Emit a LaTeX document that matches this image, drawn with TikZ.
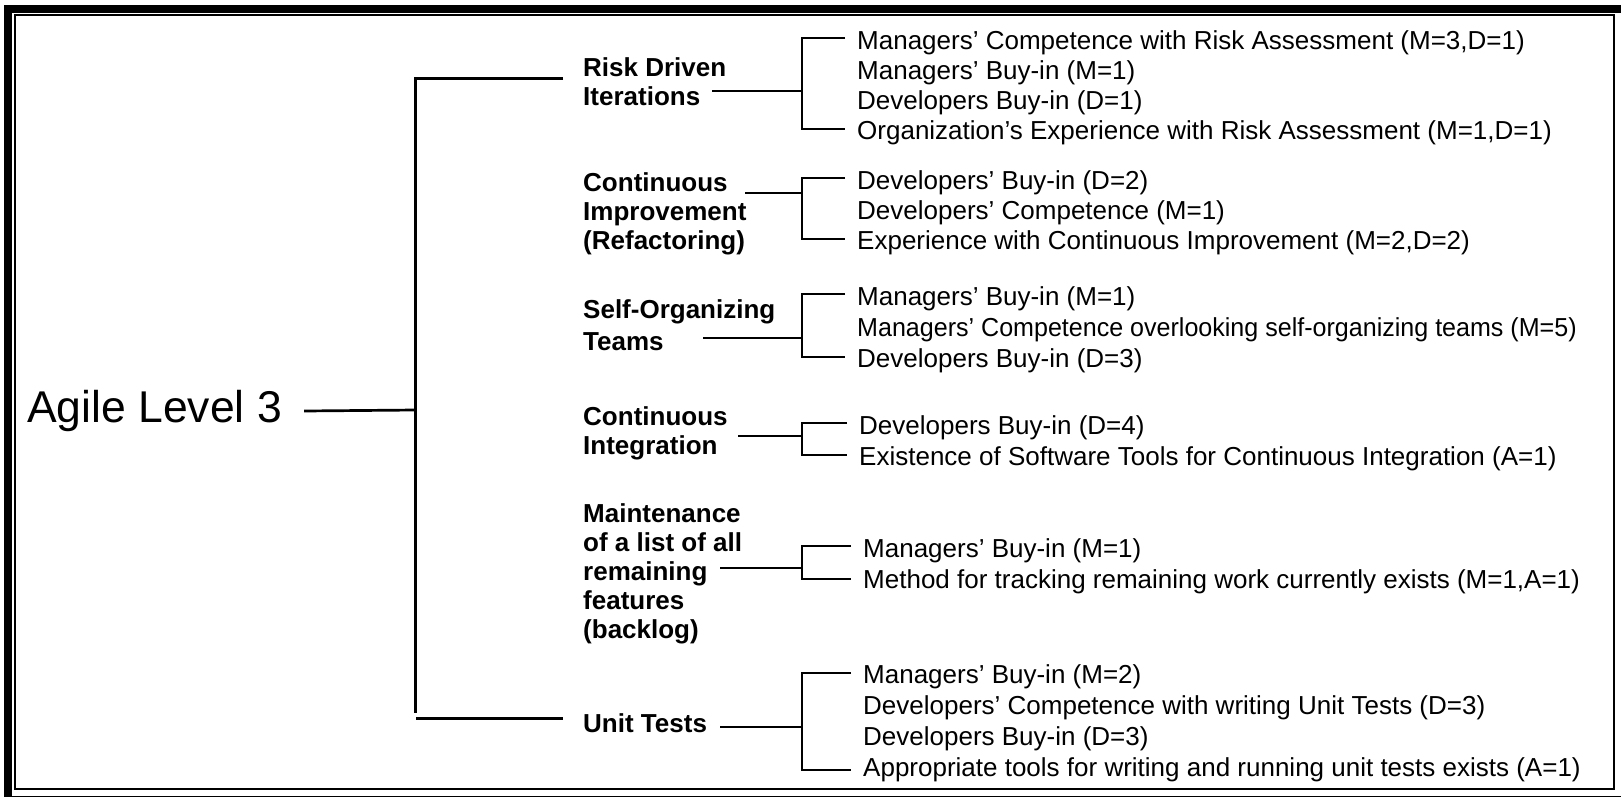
\documentclass[tikz,border=0pt]{standalone}
\usepackage{fontspec}
\setmainfont{Liberation Sans}
\begin{document}
\begin{tikzpicture}[x=1pt, y=-1pt,
    itemtext/.style={anchor=west, inner sep=0pt, font=\fontsize{26}{30}\selectfont, execute at begin node=\strut},
    cattext/.style={anchor=west, inner sep=0pt, align=left, font=\bfseries\fontsize{26}{29}\selectfont,
        execute at begin node=\strut, execute at end node=\strut},
    trunk/.style={line width=3pt},
    twig/.style={line width=1.4pt}]
    \useasboundingbox (0,0) rectangle (1621,796);

    % 外框
    \draw[line width=8pt] (8,9) rectangle (1625,800);
    \draw[line width=2pt] (15,15) rectangle (1614,789);

    % 根
    \node[anchor=west, inner sep=0pt, font=\fontsize{44.5}{50}\selectfont] (root) at (27,411) {Agile Level 3};
    \coordinate (ttop) at (415,78);
    \coordinate (tmid) at (415,410);
    \coordinate (tend) at (415,713);
    \coordinate (tbot) at (416,718);
    \coordinate (b1) at (563,78);
    \coordinate (b6) at (563,718);
    \draw[line width=2.7pt] ([xshift=22]root.east) -- (tmid);
    \draw[trunk] (b1) -- (ttop) -- (tend);
    \draw[trunk] (tbot) -- (b6);

    % Risk Driven Iterations
    \node[cattext] (c1) at (583,86) {Risk Driven\\Iterations};
    \coordinate (s1) at (712,91);
    \coordinate (j1) at (802,91);
    \coordinate (u1) at (802,38);
    \coordinate (d1) at (802,129);
    \draw[twig] (s1) -- (j1);
    \draw[twig] ([xshift=43]u1) -- (u1) -- (d1) -- ([xshift=43]d1);
    \node[itemtext] (i11) at (857,43) {Managers’ Competence with Risk Assessment (M=3,D=1)};
    \node[itemtext] (i12) at (857,73) {Managers’ Buy-in (M=1)};
    \node[itemtext] (i13) at (857,103) {Developers Buy-in (D=1)};
    \node[itemtext] (i14) at (857,133) {Organization’s Experience with Risk Assessment (M=1,D=1)};

    % Continuous Improvement
    \node[cattext] (c2) at (583,215) {Continuous\\Improvement\\(Refactoring)};
    \coordinate (s2) at (745,193);
    \coordinate (j2) at (802,193);
    \coordinate (u2) at (802,178);
    \coordinate (d2) at (802,239);
    \draw[twig] (s2) -- (j2);
    \draw[twig] ([xshift=43]u2) -- (u2) -- (d2) -- ([xshift=43]d2);
    \node[itemtext] (i21) at (857,183) {Developers’ Buy-in (D=2)};
    \node[itemtext] (i22) at (857,213) {Developers’ Competence (M=1)};
    \node[itemtext] (i23) at (857,243) {Experience with Continuous Improvement (M=2,D=2)};

    % Self-Organizing Teams
    \node[cattext] (c3) at (583,329.5) {Self-Organizing\\[3pt]Teams};
    \coordinate (s3) at (703,338);
    \coordinate (j3) at (802,338);
    \coordinate (u3) at (802,294);
    \coordinate (d3) at (802,357);
    \draw[twig] (s3) -- (j3);
    \draw[twig] ([xshift=43]u3) -- (u3) -- (d3) -- ([xshift=43]d3);
    \node[itemtext] (i31) at (857,299) {Managers’ Buy-in (M=1)};
    \node[itemtext] (i32) at (857,330) {\scalebox{0.964}[1]{Managers’ Competence overlooking self-organizing teams (M=5)}};
    \node[itemtext] (i33) at (857,361) {Developers Buy-in (D=3)};

    % Continuous Integration
    \node[cattext] (c4) at (583,434.5) {Continuous\\Integration};
    \coordinate (s4) at (738,436);
    \coordinate (j4) at (802,436);
    \coordinate (u4) at (802,423);
    \coordinate (d4) at (802,455);
    \draw[twig] (s4) -- (j4);
    \draw[twig] ([xshift=45]u4) -- (u4) -- (d4) -- ([xshift=45]d4);
    \node[itemtext] (i41) at (859,428) {Developers Buy-in (D=4)};
    \node[itemtext] (i42) at (859,459) {Existence of Software Tools for Continuous Integration (A=1)};

    % Backlog
    \node[cattext] (c5) at (583,575) {Maintenance\\of a list of all\\remaining\\features\\(backlog)};
    \coordinate (s5) at (720,568);
    \coordinate (j5) at (802,568);
    \coordinate (u5) at (802,546);
    \coordinate (d5) at (802,579);
    \draw[twig] (s5) -- (j5);
    \draw[twig] ([xshift=49]u5) -- (u5) -- (d5) -- ([xshift=49]d5);
    \node[itemtext] (i51) at (863,551) {Managers’ Buy-in (M=1)};
    \node[itemtext] (i52) at (863,582) {Method for tracking remaining work currently exists (M=1,A=1)};

    % Unit Tests
    \node[cattext] (c6) at (583,726.5) {Unit Tests};
    \coordinate (s6) at (720,727);
    \coordinate (j6) at (802,727);
    \coordinate (u6) at (802,673);
    \coordinate (d6) at (802,770);
    \draw[twig] (s6) -- (j6);
    \draw[twig] ([xshift=49]u6) -- (u6) -- (d6) -- ([xshift=49]d6);
    \node[itemtext] (i61) at (863,677) {Managers’ Buy-in (M=2)};
    \node[itemtext] (i62) at (863,708) {Developers’ Competence with writing Unit Tests (D=3)};
    \node[itemtext] (i63) at (863,739) {Developers Buy-in (D=3)};
    \node[itemtext] (i64) at (863,770) {Appropriate tools for writing and running unit tests exists (A=1)};
\end{tikzpicture}
\end{document}
